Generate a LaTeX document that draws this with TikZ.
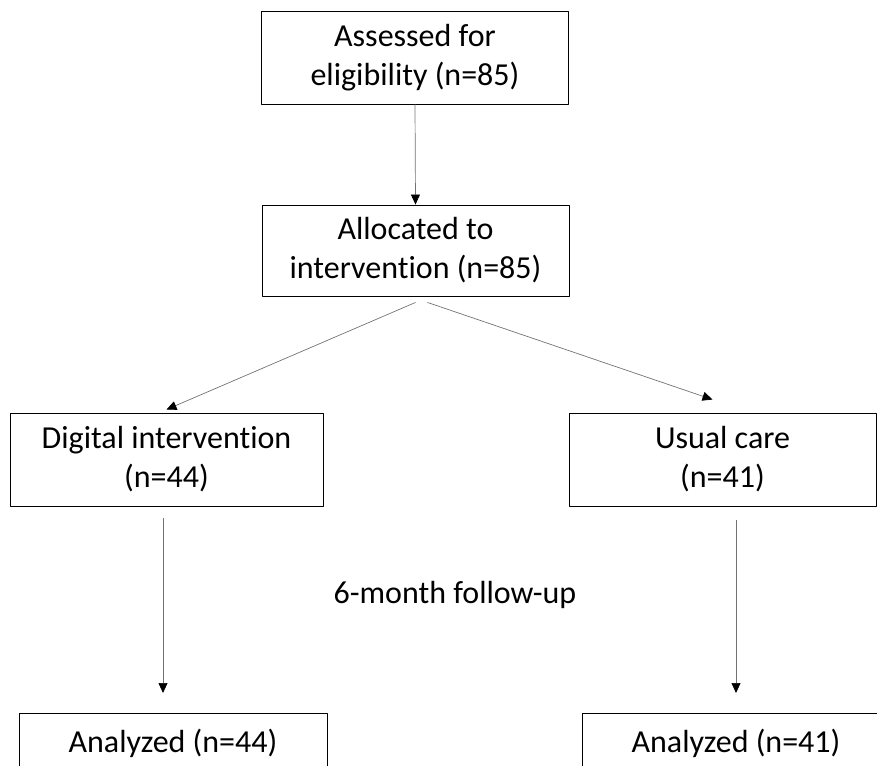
\documentclass[tikz,border=0pt]{standalone}
\usepackage{fontspec}
\setmainfont{Carlito}[Ligatures=NoCommon]
\usetikzlibrary{arrows.meta}
\tikzset{
  every picture/.style={line join=round, >=Stealth},
  box/.style={draw=black, line width=0.9pt, align=center, inner sep=0pt,
    font=\fontsize{32}{39}\selectfont},
  flow/.style={draw=black!55, line width=0.7pt,
    -{Triangle[length=10pt,width=9pt,color=black]}},
}

\begin{document}
\begin{tikzpicture}[x=1pt,y=-1pt]
\useasboundingbox (0,0) rectangle (877,765);
\clip (0,0) rectangle (877,765);
\node[box,minimum width=307,minimum height=93](assess)at(415,57.5){Assessed for\\eligibility (n=85)};
\node[box,minimum width=307,minimum height=91](alloc)at(415.5,250.5){Allocated to\\intervention (n=85)};
\node[box,minimum width=313,minimum height=93](digital)at(166.5,459.5){Digital intervention\\(n=44)};
\node[box,minimum width=307,minimum height=93](usual)at(722.5,459.5){Usual care\\(n=41)};
\node[box,minimum width=308,minimum height=60,anchor=north](an1)at(173,713){Analyzed (n=44)};
\node[box,minimum width=308,minimum height=60,anchor=north](an2)at(736,713){Analyzed (n=41)};
\node[font=\fontsize{32}{39}\selectfont,anchor=base](follow)at(455,603){6-month follow-up};
\draw[flow](assess.south)--(alloc.north);
\draw[flow]([yshift=-6pt]alloc.south)--([yshift=3pt]digital.north);
\draw[flow]([xshift=12pt,yshift=-6pt]alloc.south)--([xshift=-10pt,yshift=13pt]usual.north);
\draw[flow]([xshift=-3.5pt,yshift=-12pt]digital.south)--([xshift=-10pt,yshift=20pt]an1.north);
\draw[flow]([xshift=13.5pt,yshift=-14pt]usual.south)--([yshift=20pt]an2.north);
\end{tikzpicture}
\end{document}
